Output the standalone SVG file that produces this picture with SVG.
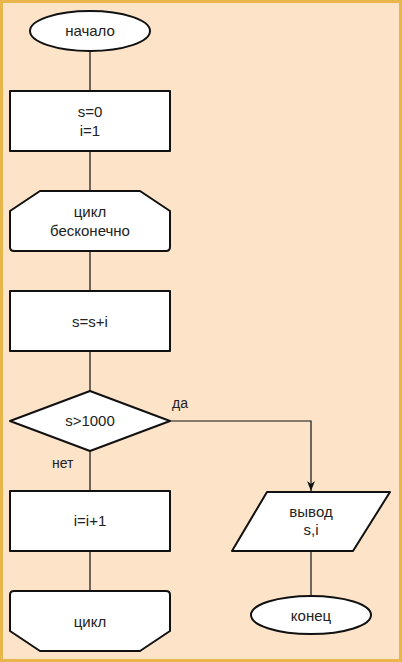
<svg xmlns="http://www.w3.org/2000/svg" width="402" height="662" viewBox="0 0 402 662">
<defs>
<style>
.shape{fill:#fff;stroke:#111;stroke-width:2;stroke-linejoin:round}
.conn{fill:none;stroke:#111;stroke-width:1.2}
text{font-family:"Liberation Sans",Arial,sans-serif;font-size:15px;fill:#222;text-anchor:middle}
.lbl{font-size:14px;text-anchor:start}
</style>
<marker id="arr" viewBox="0 0 10 10" refX="10" refY="5" markerWidth="10" markerHeight="10" markerUnits="userSpaceOnUse" orient="auto">
<path d="M0,1 L10,5 L0,9 L3,5 Z" fill="#111"/>
</marker>
</defs>
<rect x="1.5" y="1.5" width="399" height="659" fill="#FDE4C9" stroke="#E8B64A" stroke-width="3"/>
<g id="connectors">
<path class="conn" d="M90,51 V91"/>
<path class="conn" d="M90,151 V191"/>
<path class="conn" d="M90,251 V291"/>
<path class="conn" d="M90,351 V391"/>
<path class="conn" d="M90,451 V491"/>
<path class="conn" d="M90,551 V591"/>
<path class="conn" d="M170,421 H311 V491" marker-end="url(#arr)"/>
<path class="conn" d="M311,551 V596"/>
<text class="lbl" x="172" y="408">да</text>
<text class="lbl" x="52" y="468">нет</text>
</g>
<g id="start">
<ellipse class="shape" cx="90" cy="31" rx="60" ry="20"/>
<text x="90" y="36">начало</text>
</g>
<g id="init">
<rect class="shape" x="10" y="91" width="160" height="60"/>
<text x="90" y="117">s=0</text>
<text x="90" y="136">i=1</text>
</g>
<g id="loopstart">
<path class="shape" d="M40,191 H140 L170,211 V247 Q170,251 166,251 H14 Q10,251 10,247 V211 Z"/>
<text x="90" y="217">цикл</text>
<text x="90" y="236">бесконечно</text>
</g>
<g id="sum">
<rect class="shape" x="10" y="291" width="160" height="60"/>
<text x="90" y="327">s=s+i</text>
</g>
<g id="cond">
<path class="shape" d="M90,391 L170,421 L90,451 L10,421 Z"/>
<text x="90" y="426">s&gt;1000</text>
</g>
<g id="inc">
<rect class="shape" x="10" y="491" width="160" height="60"/>
<text x="90" y="526">i=i+1</text>
</g>
<g id="loopend">
<path class="shape" d="M14,591 H166 Q170,591 170,595 V631 L140,651 H40 L10,631 V595 Q10,591 14,591 Z"/>
<text x="90" y="627">цикл</text>
</g>
<g id="output">
<path class="shape" d="M267,492 H390 L353,551 H232 Z"/>
<text x="311" y="517">вывод</text>
<text x="311" y="535">s,i</text>
</g>
<g id="end">
<ellipse class="shape" cx="311" cy="615" rx="60" ry="19"/>
<text x="311" y="621">конец</text>
</g>
</svg>
